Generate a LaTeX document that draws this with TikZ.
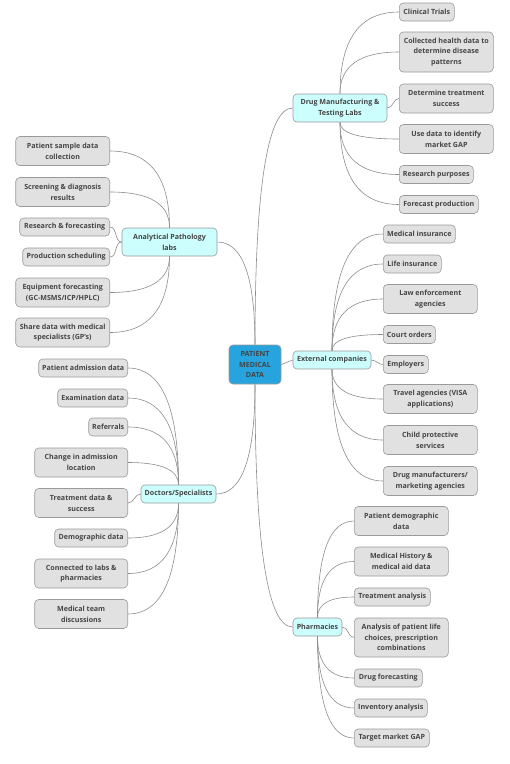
\documentclass[tikz,border=0pt]{standalone}
\usepackage{fontspec}
\setmainfont{Open Sans}
\usetikzlibrary{calc}
\definecolor{mRoot}{HTML}{27A4DD}
\definecolor{mTopic}{HTML}{CCFEFE}
\definecolor{mLeaf}{HTML}{E1E1E1}
\definecolor{mEdge}{HTML}{9A9A9A}
\definecolor{mLine}{HTML}{8C8C8C}
\definecolor{mText}{HTML}{454545}

\tikzset{
  box/.style={draw=mEdge, line width=0.6pt, rounded corners=4pt, align=center,
    text=mText, inner sep=1.5pt, font=\fontsize{7.1}{10.7}\selectfont\bfseries},
  leaf/.style={box, fill=mLeaf},
  topic/.style={box, fill=mTopic},
  rootbox/.style={box, fill=mRoot, minimum width=52pt, minimum height=39pt},
  branch/.style={draw=mLine, line width=0.6pt,
    to path={.. controls ($(\tikztostart)!2/3!(\tikztostart|-\tikztotarget)$)
      and ($(\tikztotarget)!2/3!(\tikztostart|-\tikztotarget)$) .. (\tikztotarget)}},
  flat/.style={draw=mLine, line width=0.6pt},
}

\begin{document}
\begin{tikzpicture}[x=1pt, y=-1pt]
  \useasboundingbox (0,0) rectangle (510,764);

  % centre and main topics
  \node[rootbox] (pmd) at (255,364.5) {PATIENT\\MEDICAL\\DATA};
  \node[topic, minimum width=94pt, minimum height=28pt] (drug) at (340,108) {Drug Manufacturing \&\\Testing Labs};
  \node[topic, minimum width=78pt, minimum height=18pt] (ext) at (332,360) {External companies};
  \node[topic, minimum width=95pt, minimum height=28pt] (lab) at (169.5,242) {Analytical Pathology\\labs};
  \node[topic, minimum width=75pt, minimum height=18pt] (doc) at (178.5,494) {Doctors/Specialists};
  \node[topic, minimum width=49pt, minimum height=18pt] (pharm) at (317.5,627) {Pharmacies};

  % drug labs
  \foreach \i/\y/\w/\h/\t in {1/12/55/18/{Clinical Trials},
      2/52/94/40/{Collected health data to\\determine disease\\patterns},
      3/98.5/94/29/{Determine treatment\\success},
      4/139/94/29/{Use data to identify\\market GAP},
      5/174.5/74/18/{Research purposes},
      6/204.5/79/18/{Forecast production}}
    \node[leaf, anchor=west, minimum width=\w pt, minimum height=\h pt] (drug\i) at (399,\y) {\t};

  % external companies
  \foreach \i/\y/\w/\h/\t in {1/234/72/18/{Medical insurance},
      2/264/58/18/{Life insurance},
      3/299/94/29/{Law enforcement\\agencies},
      4/334.5/52/18/{Court orders},
      5/364.5/45/18/{Employers},
      6/399/94/29/{Travel agencies (VISA\\applications)},
      7/440/94/29/{Child protective\\services},
      8/481/94/29/{Drug manufacturers/\\marketing agencies}}
    \node[leaf, anchor=west, minimum width=\w pt, minimum height=\h pt] (ext\i) at (383,\y) {\t};

  % pathology labs
  \foreach \i/\y/\w/\h/\t in {1/151/94/29/{Patient sample data\\collection},
      2/192/94/29/{Screening \& diagnosis\\results},
      3/227/90/18/{Research \& forecasting},
      4/257/87/18/{Production scheduling},
      5/292.5/94/29/{Equipment forecasting\\(GC-MSMS/ICP/HPLC)},
      6/332.5/94/29/{Share data with medical\\specialists (GP's)}}
    \node[leaf, anchor=east, minimum width=\w pt, minimum height=\h pt] (lab\i) at (110,\y) {\t};

  % doctors
  \foreach \i/\y/\w/\h/\t in {1/368/89/18/{Patient admission data},
      2/398/70/18/{Examination data},
      3/427/39/18/{Referrals},
      4/462.5/93/29/{Change in admission\\location},
      5/503/93/29/{Treatment data \&\\success},
      6/538/73/18/{Demographic data},
      7/573.5/93/29/{Connected to labs \&\\pharmacies},
      8/614/93/29/{Medical team\\discussions}}
    \node[leaf, anchor=east, minimum width=\w pt, minimum height=\h pt] (doc\i) at (128,\y) {\t};

  % pharmacies
  \foreach \i/\y/\w/\h/\t in {1/521/94/29/{Patient demographic\\data},
      2/561.5/94/29/{Medical History \&\\medical aid data},
      3/597/76/18/{Treatment analysis},
      4/637.5/94/39/{Analysis of patient life\\choices, prescription\\combinations},
      5/678/68/18/{Drug forecasting},
      6/708/73/18/{Inventory analysis},
      7/738/75/18/{Target market GAP}}
    \node[leaf, anchor=west, minimum width=\w pt, minimum height=\h pt] (ph\i) at (354,\y) {\t};

  % centre to topics
  \draw[branch] (pmd.north) to (drug.west);
  \draw[branch] (pmd.north) to (lab.east);
  \draw[branch] (pmd.south) to (doc.east);
  \draw[branch] (pmd.south) to (pharm.west);
  \draw[flat] (pmd.east) -- (ext.west);

  % topics to leaves
  \foreach \c in {drug1,drug2}
    \draw[branch] (drug.north) to (\c.west);
  \draw[flat] (drug.east) to[out=0,in=180] (drug3.west);
  \foreach \c in {drug4,drug5,drug6}
    \draw[branch] (drug.south) to (\c.west);

  \foreach \c in {ext1,ext2,ext3,ext4}
    \draw[branch] (ext.north) to (\c.west);
  \draw[flat] (ext.east) to[out=0,in=180] (ext5.west);
  \foreach \c in {ext6,ext7,ext8}
    \draw[branch] (ext.south) to (\c.west);

  \foreach \c in {lab1,lab2}
    \draw[branch] (lab.north) to (\c.east);
  \foreach \c in {lab3,lab4}
    \draw[flat] (lab.west) to[out=180,in=0] (\c.east);
  \foreach \c in {lab5,lab6}
    \draw[branch] (lab.south) to (\c.east);

  \foreach \c in {doc1,doc2,doc3,doc4}
    \draw[branch] (doc.north) to (\c.east);
  \draw[flat] (doc.west) to[out=180,in=0] (doc5.east);
  \foreach \c in {doc6,doc7,doc8}
    \draw[branch] (doc.south) to (\c.east);

  \foreach \c in {ph1,ph2,ph3}
    \draw[branch] (pharm.north) to (\c.west);
  \draw[flat] (pharm.east) to[out=0,in=180] (ph4.west);
  \foreach \c in {ph5,ph6,ph7}
    \draw[branch] (pharm.south) to (\c.west);
\end{tikzpicture}
\end{document}
